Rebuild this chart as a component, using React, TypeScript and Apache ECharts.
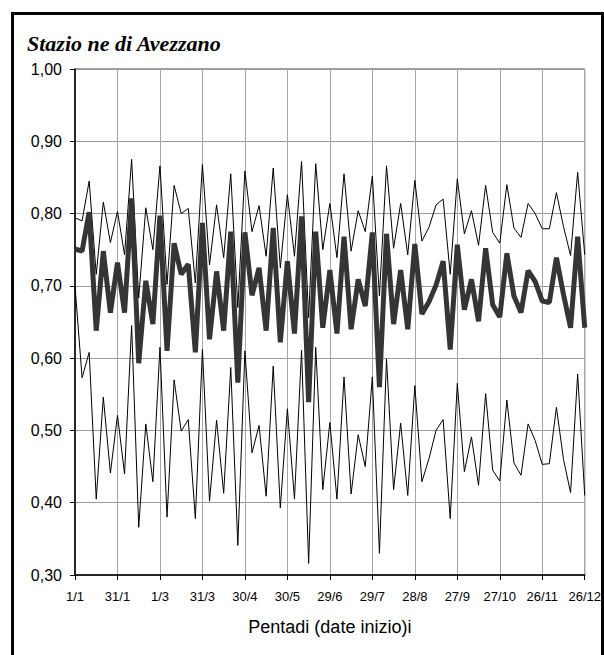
import React, { useEffect, useRef } from "react";
import * as echarts from "echarts";

const tickLabels = ["1/1", "31/1", "1/3", "31/3", "30/4", "30/5", "29/6", "29/7", "28/8", "27/9", "27/10", "26/11", "26/12"];

const upperValues = [
  0.794, 0.790, 0.845, 0.716, 0.816, 0.760, 0.803, 0.743, 0.875, 0.683,
  0.808, 0.750, 0.866, 0.702, 0.839, 0.800, 0.807, 0.704, 0.868, 0.729,
  0.812, 0.739, 0.855, 0.670, 0.859, 0.775, 0.811, 0.741, 0.863, 0.725,
  0.826, 0.741, 0.872, 0.656, 0.869, 0.750, 0.814, 0.739, 0.855, 0.748,
  0.804, 0.775, 0.852, 0.686, 0.866, 0.752, 0.814, 0.743, 0.846, 0.762,
  0.781, 0.812, 0.820, 0.716, 0.848, 0.772, 0.804, 0.756, 0.839, 0.774,
  0.759, 0.840, 0.780, 0.767, 0.814, 0.800, 0.779, 0.779, 0.829, 0.782,
  0.742, 0.857, 0.743,
];

const meanValues = [
  0.751, 0.748, 0.802, 0.638, 0.748, 0.663, 0.732, 0.663, 0.821, 0.593,
  0.707, 0.647, 0.797, 0.610, 0.759, 0.716, 0.730, 0.608, 0.787, 0.626,
  0.720, 0.638, 0.775, 0.566, 0.774, 0.687, 0.725, 0.638, 0.780, 0.622,
  0.734, 0.634, 0.796, 0.539, 0.775, 0.642, 0.722, 0.634, 0.768, 0.640,
  0.709, 0.672, 0.774, 0.560, 0.772, 0.647, 0.722, 0.640, 0.758, 0.661,
  0.678, 0.701, 0.734, 0.612, 0.757, 0.667, 0.709, 0.651, 0.752, 0.674,
  0.657, 0.745, 0.686, 0.663, 0.721, 0.706, 0.679, 0.677, 0.739, 0.688,
  0.642, 0.768, 0.642,
];

const lowerValues = [
  0.700, 0.573, 0.608, 0.405, 0.546, 0.441, 0.521, 0.440, 0.645, 0.366,
  0.509, 0.429, 0.615, 0.380, 0.570, 0.499, 0.515, 0.378, 0.612, 0.402,
  0.514, 0.413, 0.587, 0.341, 0.610, 0.469, 0.507, 0.409, 0.589, 0.393,
  0.530, 0.405, 0.611, 0.316, 0.615, 0.418, 0.511, 0.405, 0.574, 0.412,
  0.494, 0.450, 0.574, 0.330, 0.599, 0.418, 0.510, 0.410, 0.562, 0.429,
  0.461, 0.500, 0.515, 0.378, 0.565, 0.443, 0.491, 0.424, 0.551, 0.445,
  0.430, 0.542, 0.455, 0.438, 0.509, 0.486, 0.453, 0.454, 0.532, 0.460,
  0.414, 0.578, 0.410,
];

const LABEL_STEP = 6;
const categories = upperValues.map((_, i) =>
  i % LABEL_STEP === 0 ? tickLabels[i / LABEL_STEP] : String(i)
);

export default function App() {
  const ref = useRef<HTMLDivElement>(null);

  useEffect(() => {
    if (!ref.current) return;
    const chart = echarts.init(ref.current, undefined, { renderer: "svg" });
    const axisFont = "Liberation Sans, Arial, sans-serif";
    chart.setOption({
      animation: false,
      backgroundColor: "#fff",
      title: {
        text: "Stazio ne di Avezzano",
        left: 27,
        top: 32,
        padding: 0,
        textStyle: {
          fontFamily: "Liberation Serif, Times New Roman, serif",
          fontStyle: "italic",
          fontWeight: "bold",
          fontSize: 22,
          color: "#000",
        },
      },
      graphic: [
        {
          type: "rect",
          silent: true,
          z: 100,
          shape: { x: 12.5, y: 13.5, width: 590, height: 700 },
          style: { fill: "none", stroke: "#000", lineWidth: 3 },
        },
      ],
      grid: {
        left: 75,
        right: 16,
        top: 69,
        bottom: 80,
        show: true,
        borderColor: "#404040",
        borderWidth: 1,
        backgroundColor: "transparent",
      },
      xAxis: {
        type: "category",
        data: categories,
        boundaryGap: false,
        name: "Pentadi (date inizio)i",
        nameLocation: "middle",
        nameGap: 43,
        nameTextStyle: { fontFamily: axisFont, fontSize: 18, color: "#000" },
        axisLine: { lineStyle: { color: "#000", width: 1.5 } },
        axisTick: { show: true, interval: LABEL_STEP - 1, length: 5, lineStyle: { color: "#000" } },
        axisLabel: {
          interval: LABEL_STEP - 1,
          fontFamily: axisFont,
          fontSize: 13,
          color: "#000",
          margin: 15,
          formatter: (v: string, i: number) => (i % LABEL_STEP === 0 ? v : ""),
        },
        splitLine: {
          show: true,
          interval: LABEL_STEP - 1,
          lineStyle: { color: "#a6a6a6", width: 1 },
        },
      },
      yAxis: {
        type: "value",
        min: 0.3,
        max: 1.0,
        interval: 0.1,
        axisLine: { show: true, lineStyle: { color: "#000", width: 1.5 } },
        axisTick: { show: true, length: 5, lineStyle: { color: "#000" } },
        axisLabel: {
          fontFamily: axisFont,
          fontSize: 16,
          color: "#000",
          margin: 13,
          formatter: (v: number) => v.toFixed(2).replace(".", ","),
        },
        splitLine: { show: true, lineStyle: { color: "#999", width: 1 } },
      },
      series: [
        {
          name: "max",
          type: "line",
          data: upperValues,
          symbol: "none",
          lineStyle: { color: "#000", width: 1 },
        },
        {
          name: "min",
          type: "line",
          data: lowerValues,
          symbol: "none",
          lineStyle: { color: "#000", width: 1 },
        },
        {
          name: "media",
          type: "line",
          data: meanValues,
          symbol: "none",
          lineStyle: { color: "#353535", width: 5 },
        },
      ],
    });
    return () => chart.dispose();
  }, []);

  return <div ref={ref} style={{ width: 604, height: 655, position: "absolute", left: 0, top: 0 }} />;
}
